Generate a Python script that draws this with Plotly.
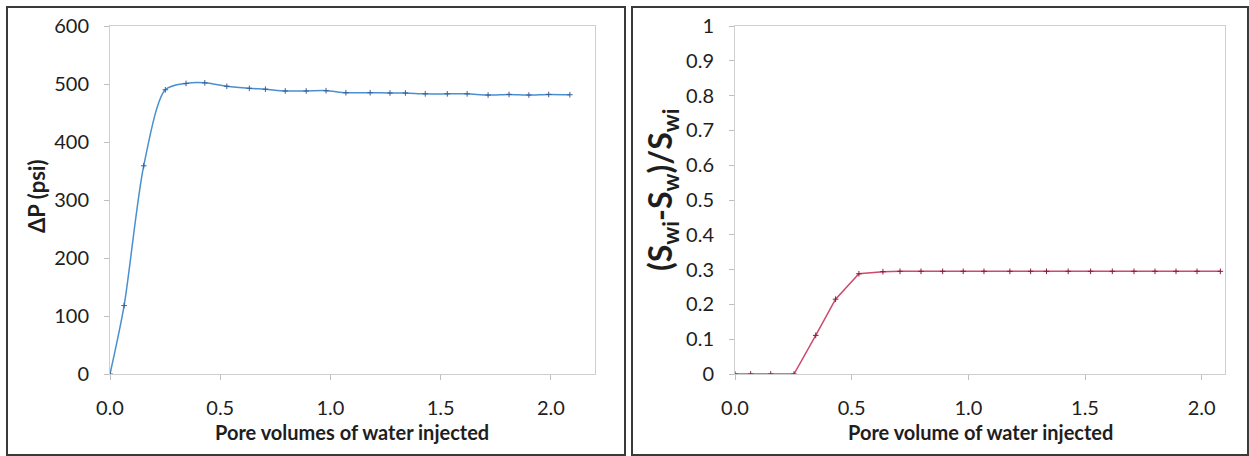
import plotly.graph_objects as go

W, H = 1249, 456

# Left chart: pressure drop vs pore volumes injected
pv_left = [0, 0.064, 0.153, 0.251, 0.345, 0.43, 0.53, 0.632, 0.705, 0.795, 0.89, 0.98,
           1.07, 1.18, 1.27, 1.34, 1.43, 1.53, 1.62, 1.715, 1.81, 1.90, 1.99, 2.086]
dp_psi = [0, 118, 359, 490, 501, 502, 496, 492.5, 491, 488, 488, 488.5,
          485, 485, 484.5, 484.5, 483, 483, 483, 481, 482, 481, 482, 481.5]

# Right chart: normalized saturation change vs pore volume injected
pv_right = [0, 0.067, 0.153, 0.253, 0.346, 0.431, 0.531, 0.634, 0.707, 0.797, 0.89, 0.978,
            1.067, 1.178, 1.267, 1.335, 1.428, 1.524, 1.617, 1.71, 1.80, 1.89, 1.98, 2.08]
sat_change = [0, 0, 0, 0, 0.111, 0.215, 0.288, 0.294, 0.295, 0.295, 0.295, 0.295,
              0.295, 0.295, 0.295, 0.295, 0.295, 0.295, 0.295, 0.295, 0.295, 0.295, 0.295, 0.295]

left_xticks = [0.0, 0.5, 1.0, 1.5, 2.0]
left_yticks = [0, 100, 200, 300, 400, 500, 600]
right_yticks = [round(i * 0.1, 1) for i in range(11)]

FONT = "Lato"
TXT = "#1e1e1e"

def px(x):
    return x / W

def py(y):
    return 1 - y / H

fig = go.Figure()
fig.add_trace(go.Scatter(
    x=pv_left, y=dp_psi, mode="lines+markers",
    line=dict(color="#4a8fd0", width=1.5, shape="spline", smoothing=0.8),
    marker=dict(symbol="cross-thin", size=4, line=dict(color="#3a5f9a", width=1)),
    xaxis="x", yaxis="y", showlegend=False, hoverinfo="x+y"))
fig.add_trace(go.Scatter(
    x=pv_right, y=sat_change, mode="lines+markers",
    line=dict(color="#cc4a6e", width=1.5),
    marker=dict(symbol="cross-thin", size=4, line=dict(color="#8b1a3a", width=1)),
    xaxis="x2", yaxis="y2", showlegend=False, hoverinfo="x+y"))

axis_common = dict(showgrid=False, zeroline=False, showline=True, linecolor="#cfcfcf",
                   linewidth=1, mirror=True, ticks="outside", ticklen=5, tickcolor="#bfbfbf",
                   tickfont=dict(family=FONT, size=20, color=TXT), ticklabelstandoff=11,
                   automargin=False)

fig.update_layout(
    template="none",
    width=W, height=H, margin=dict(l=0, r=0, t=0, b=0, autoexpand=False),
    paper_bgcolor="white", plot_bgcolor="white",
    xaxis=dict(domain=[px(110), px(595)], range=[0, 2.2], tickvals=left_xticks,
               tickformat=".1f", anchor="y", **axis_common),
    yaxis=dict(domain=[py(374), py(26)], range=[0, 600], tickvals=left_yticks,
               anchor="x", **axis_common),
    xaxis2=dict(domain=[px(735), px(1225)], range=[0, 2.1], tickvals=left_xticks,
                tickformat=".1f", anchor="y2", **axis_common),
    yaxis2=dict(domain=[py(374), py(26)], range=[0, 1], tickvals=right_yticks,
                anchor="x2", **axis_common),
)

fig.update_layout(shapes=[
    dict(type="rect", xref="paper", yref="paper", x0=px(7), x1=px(625), y0=py(455), y1=py(7),
         line=dict(color="#3a3a3a", width=2)),
    dict(type="rect", xref="paper", yref="paper", x0=px(632), x1=px(1248), y0=py(455), y1=py(7),
         line=dict(color="#3a3a3a", width=2)),
])

fig.update_layout(annotations=[
    dict(text="<b>Pore volumes of water injected</b>", xref="paper", yref="paper",
         x=px(352), y=py(432), showarrow=False, xanchor="center", yanchor="middle",
         font=dict(family=FONT, size=20, color=TXT)),
    dict(text="<b>Pore volume of water injected</b>", xref="paper", yref="paper",
         x=px(980), y=py(432), showarrow=False, xanchor="center", yanchor="middle",
         font=dict(family=FONT, size=20, color=TXT)),
    dict(text="<b>ΔP (psi)</b>", xref="paper", yref="paper", textangle=-90,
         x=px(36), y=py(197), showarrow=False, xanchor="center", yanchor="middle",
         font=dict(family=FONT, size=22, color=TXT)),
    dict(text="<b>(S<sub>wi</sub>-S<sub>w</sub>)/S<sub>wi</sub></b>", xref="paper", yref="paper",
         textangle=-90, x=px(662), y=py(190), showarrow=False, xanchor="center", yanchor="middle",
         font=dict(family=FONT, size=32, color=TXT)),
])

fig.write_html("out.html")
